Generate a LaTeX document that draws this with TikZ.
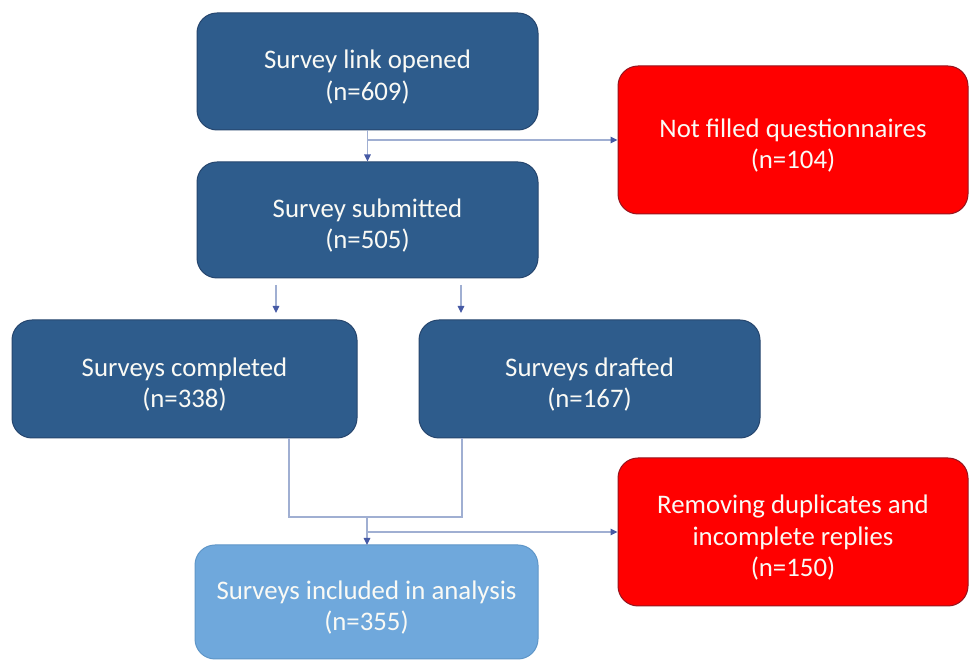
\documentclass[tikz,border=0pt]{standalone}
\usepackage{fontspec}
\setmainfont{Carlito}
\usetikzlibrary{arrows.meta}
\definecolor{darkbox}{RGB}{46,92,140}
\definecolor{darkedge}{RGB}{38,70,110}
\definecolor{lightbox}{RGB}{111,168,220}
\definecolor{lightedge}{RGB}{95,150,200}
\definecolor{redbox}{RGB}{255,0,0}
\definecolor{rededge}{RGB}{150,20,30}
\definecolor{conn}{RGB}{160,175,210}
\definecolor{tipc}{RGB}{70,90,165}
\definecolor{txt}{RGB}{250,250,245}
\newcommand{\lowstrut}{\rule{0pt}{30pt}}
\tikzset{
  box/.style={rounded corners=20pt, line width=1pt, minimum height=117pt,
    text=txt, align=center, inner sep=0pt,
    font=\fontsize{26.8}{31.5}\selectfont},
  bluebox/.style={box, fill=darkbox, draw=darkedge},
  lbbox/.style={box, fill=lightbox, draw=lightedge},
  rbox/.style={box, fill=redbox, draw=rededge, minimum height=148pt, minimum width=350pt},
  line/.style={draw=conn, line width=1.2pt},
  arr/.style={line, -{Triangle[length=7pt,width=6.5pt,color=tipc,fill=tipc]}}
}
\begin{document}
\begin{tikzpicture}[x=1pt,y=1pt]
\useasboundingbox (0,0) rectangle (970,660);
\fill[white] (0,0) rectangle (970,660);
% nodes
\node[bluebox, minimum width=341pt] (b1) at (367.5,588.5) {\lowstrut Survey link opened\\(n=609)};
\node[rbox] (r1) at (793,520) {\lowstrut Not filled questionnaires\\(n=104)};
\node[bluebox, minimum width=341pt, minimum height=116pt] (b2) at (367.5,440) {\lowstrut Survey submitted\\(n=505)};
\node[bluebox, minimum width=345pt, minimum height=118pt] (b3) at (184.5,281) {\lowstrut Surveys completed\\(n=338)};
\node[bluebox, minimum width=341pt, minimum height=118pt] (b4) at (589.5,281) {\lowstrut Surveys drafted\\(n=167)};
\node[rbox] (r2) at (793,128) {\lowstrut Removing duplicates and\\incomplete replies\\(n=150)};
\node[lbbox, minimum width=343pt, minimum height=114pt] (b5) at (366.5,58) {\lowstrut Surveys included in analysis\\(n=355)};
% coordinates
\coordinate (j1) at (b1.south |- r1.west);
\coordinate (s1) at (276,375);
\coordinate (e1) at (276,347);
\coordinate (s2) at (461,375);
\coordinate (e2) at (461,347);
\coordinate (c3) at (289,222);
\coordinate (c4) at (462,222);
\coordinate (m3) at (289,143);
\coordinate (m4) at (462,143);
\coordinate (mm) at (367,143);
\coordinate (b5t) at (367,115);
\coordinate (j2) at (367,128);
% connectors
\draw[arr] (b1.south) -- (b2.north);
\draw[arr] (j1) -- (r1.west);
\draw[arr] (s1) -- (e1);
\draw[arr] (s2) -- (e2);
\draw[line] (c3) -- (m3) -- (m4) -- (c4);
\draw[arr] (mm) -- (b5t);
\draw[arr] (j2) -- (r2.west);
\end{tikzpicture}
\end{document}
